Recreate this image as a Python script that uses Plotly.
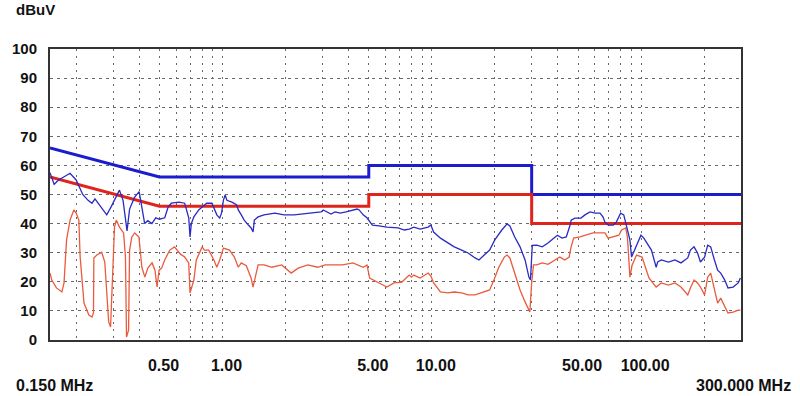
import math
import plotly.graph_objects as go

# ---------------- data ----------------
# limit lines (MHz, dBuV)
qp_limit_f = [0.15, 0.5, 5, 5, 30, 30, 300]
qp_limit_v = [66, 56, 56, 60, 60, 50, 50]
av_limit_f = [0.15, 0.5, 5, 5, 30, 30, 300]
av_limit_v = [56, 46, 46, 50, 50, 40, 40]

# measured trace (blue)
blue_f = [0.150, 0.157, 0.165, 0.175, 0.187, 0.200, 0.215, 0.228, 0.238, 0.246,
          0.265, 0.280, 0.295, 0.310, 0.322, 0.335, 0.350, 0.360, 0.380, 0.400,
          0.410, 0.425, 0.440, 0.460, 0.480, 0.500, 0.530, 0.550, 0.570, 0.620,
          0.660, 0.690, 0.700, 0.710, 0.730, 0.770, 0.800, 0.840, 0.890, 0.910,
          0.940, 0.970, 0.990, 1.010, 1.030, 1.050, 1.110, 1.170, 1.190, 1.230,
          1.270, 1.330, 1.370, 1.400, 1.420, 1.480, 1.580, 1.780, 1.970, 2.200,
          2.560, 2.960, 3.030, 3.300, 3.450, 3.650, 3.900, 4.400, 4.500, 4.700,
          4.900, 5.050, 5.200, 5.600, 6.100, 6.900, 7.400, 7.800, 8.200, 8.800,
          9.600, 9.900, 10.2, 11.0, 11.9, 12.8, 13.9, 14.9, 16.1, 16.8,
          17.8, 18.9, 20.0, 21.6, 22.9, 23.6, 24.9, 26.4, 27.9, 29.1,
          29.6, 30.2, 31.7, 33.7, 35.9, 38.5, 39.8, 41.9, 43.9, 45.8,
          46.3, 48.3, 51.6, 53.9, 57.0, 60.3, 63.6, 65.7, 67.2, 69.6,
          73.6, 76.1, 79.8, 82.6, 84.4, 88.4, 90.0, 94.4, 99.8, 103,
          112, 118, 120, 125, 135, 145, 155, 167, 172, 179,
          186, 192, 201, 208, 215, 224, 232, 240, 251, 260,
          275, 291, 298]
blue_v = [57.5, 53.5, 55.0, 56.0, 57.3, 55.0, 50.0, 48.0, 47.0, 48.5,
          45.5, 43.0, 46.0, 49.0, 51.5, 48.0, 37.5, 45.0, 49.0, 51.0,
          47.0, 40.0, 41.0, 40.0, 42.0, 41.5, 42.0, 45.7, 47.0, 47.4,
          47.0, 42.0, 35.4, 40.0, 42.3, 44.7, 45.7, 47.0, 47.0, 45.4,
          43.0, 41.9, 43.6, 48.0, 49.8, 48.0, 47.4, 46.4, 44.7, 43.0,
          41.2, 39.5, 38.5, 37.1, 41.2, 42.3, 43.0, 43.6, 43.0, 43.0,
          43.6, 44.0, 44.7, 43.3, 44.0, 43.6, 44.0, 45.0, 44.7, 43.0,
          42.0, 40.5, 39.5, 39.2, 38.8, 38.5, 37.8, 38.1, 38.8, 38.1,
          38.8, 39.5, 37.1, 35.0, 33.3, 32.0, 30.9, 29.9, 28.2, 27.5,
          29.2, 30.9, 34.4, 37.8, 39.9, 39.2, 35.4, 32.0, 27.5, 21.6,
          20.6, 32.5, 32.6, 32.0, 33.3, 35.0, 36.0, 35.0, 35.4, 39.5,
          41.2, 41.9, 41.9, 43.0, 44.0, 43.6, 43.6, 42.3, 40.5, 39.5,
          39.5, 40.5, 43.6, 43.0, 40.5, 34.4, 28.5, 32.0, 36.0, 35.0,
          30.9, 25.0, 26.8, 27.5, 26.8, 27.5, 26.5, 28.2, 30.9, 32.0,
          29.9, 26.8, 28.5, 32.6, 32.0, 27.5, 24.0, 23.0, 20.6, 17.9,
          18.2, 19.6, 21.3]

# measured trace (red)
red_f = [0.150, 0.153, 0.161, 0.171, 0.175, 0.180, 0.187, 0.195, 0.200, 0.206,
         0.209, 0.218, 0.230, 0.238, 0.242, 0.243, 0.251, 0.259, 0.265, 0.274,
         0.283, 0.286, 0.292, 0.301, 0.305, 0.311, 0.322, 0.337, 0.344, 0.348,
         0.356, 0.360, 0.369, 0.381, 0.399, 0.412, 0.426, 0.440, 0.461, 0.476,
         0.487, 0.498, 0.512, 0.530, 0.560, 0.590, 0.630, 0.660, 0.690, 0.700,
         0.730, 0.750, 0.800, 0.820, 0.860, 0.910, 0.940, 0.970, 1.010, 1.080,
         1.140, 1.190, 1.230, 1.300, 1.370, 1.400, 1.480, 1.580, 1.720, 1.920,
         2.130, 2.300, 2.560, 2.850, 3.100, 3.350, 3.750, 4.200, 4.700, 4.900,
         5.050, 5.600, 6.100, 6.600, 7.200, 7.800, 8.000, 8.200, 8.800, 9.600,
         9.900, 10.2, 11.0, 11.9, 12.8, 13.9, 14.9, 16.1, 17.4, 18.9,
         19.8, 20.9, 22.2, 22.9, 23.6, 24.9, 26.4, 27.9, 29.4, 30.0,
         30.6, 31.7, 33.7, 35.9, 38.5, 40.9, 43.2, 45.3, 46.3, 47.6,
         51.0, 54.5, 58.9, 63.6, 67.2, 69.6, 73.6, 78.3, 80.7, 84.4,
         86.0, 88.4, 90.6, 95.1, 101, 106, 109, 118, 125, 135,
         145, 155, 167, 172, 179, 186, 192, 201, 208, 215,
         224, 232, 240, 251, 260, 275, 291, 298]
red_v = [23.0, 20.6, 17.9, 16.5, 19.6, 34.4, 41.2, 44.7, 43.6, 41.2,
         28.5, 12.7, 8.6, 7.9, 9.3, 28.2, 29.2, 29.9, 30.2, 26.8,
         13.7, 6.2, 4.5, 28.5, 38.8, 41.2, 38.8, 36.8, 28.5, 1.0,
         3.4, 30.9, 35.4, 36.8, 35.4, 25.0, 21.6, 24.7, 26.5, 24.0,
         18.2, 24.0, 24.7, 27.5, 30.9, 32.0, 29.5, 28.5, 26.5, 16.2,
         20.6, 27.5, 32.0, 30.9, 30.9, 27.5, 25.0, 27.5, 31.6, 30.9,
         28.5, 25.0, 26.5, 25.5, 21.3, 18.2, 25.8, 25.8, 25.0, 25.8,
         23.0, 24.7, 25.8, 25.0, 25.8, 25.8, 25.8, 26.5, 25.0, 25.8,
         21.3, 19.6, 18.2, 19.6, 19.9, 22.3, 21.6, 22.3, 21.3, 23.0,
         22.0, 19.6, 16.5, 16.2, 16.5, 16.2, 15.5, 15.5, 16.2, 17.2,
         20.6, 25.0, 28.5, 29.2, 28.2, 23.0, 17.2, 13.1, 9.6, 19.6,
         25.8, 25.8, 26.5, 26.0, 27.5, 28.5, 27.5, 28.5, 32.0, 35.0,
         35.4, 36.0, 36.8, 36.8, 36.8, 35.0, 35.4, 36.0, 37.8, 38.5,
         35.4, 21.6, 25.8, 29.2, 28.5, 24.0, 21.3, 18.2, 19.6, 18.9,
         19.6, 18.2, 15.5, 17.9, 20.6, 19.6, 18.2, 15.5, 21.6, 23.0,
         17.2, 12.7, 14.4, 11.3, 9.3, 9.6, 10.3, 10.3]

# axis ticks / grid
x_min, x_max = 0.15, 300
grid_f = [0.2, 0.3, 0.4, 0.5, 0.6, 0.7, 0.8, 0.9,
          1, 2, 3, 4, 5, 6, 7, 8, 9,
          10, 20, 30, 40, 50, 60, 70, 80, 90,
          100, 200]
x_label_vals = [0.5, 1, 5, 10, 50, 100]
x_label_text = ["0.50", "1.00", "5.00", "10.00", "50.00", "100.00"]
y_tick_vals = [0, 10, 20, 30, 40, 50, 60, 70, 80, 90, 100]

FONT = "Liberation Sans, Arial, sans-serif"

fig = go.Figure()
fig.add_trace(go.Scatter(x=qp_limit_f, y=qp_limit_v, mode="lines",
                         line=dict(color="#1c1ccf", width=3), hoverinfo="skip"))
fig.add_trace(go.Scatter(x=av_limit_f, y=av_limit_v, mode="lines",
                         line=dict(color="#e0231b", width=3), hoverinfo="skip"))
fig.add_trace(go.Scatter(x=red_f, y=red_v, mode="lines",
                         line=dict(color="#ea5a3c", width=1.3)))
fig.add_trace(go.Scatter(x=blue_f, y=blue_v, mode="lines",
                         line=dict(color="#2a2ac4", width=1.3)))

tick_text = [x_label_text[x_label_vals.index(v)] if v in x_label_vals else ""
             for v in grid_f]

fig.update_xaxes(type="log", range=[math.log10(x_min), math.log10(x_max)], autorange=False,
                 tickvals=grid_f, ticktext=tick_text,
                 showgrid=True, gridcolor="#6a6a6a", gridwidth=1, griddash="2px,5px",
                 showline=True, linecolor="#333333", linewidth=2, mirror=True,
                 ticks="", ticklabelstandoff=10, ticklabelshift=4,
                 tickfont=dict(family=FONT, size=16, color="#111111", weight="bold"),
                 zeroline=False)
fig.update_yaxes(range=[0, 100], tickvals=y_tick_vals,
                 showgrid=True, gridcolor="#6a6a6a", gridwidth=1, griddash="3px,4px",
                 showline=True, linecolor="#333333", linewidth=2, mirror=True,
                 ticks="", ticklabelstandoff=8,
                 tickfont=dict(family=FONT, size=15, color="#111111", weight="bold"),
                 zeroline=False)

fig.add_annotation(text="dBuV", xref="paper", yref="paper",
                   x=-0.052, y=1.172, xanchor="left", yanchor="top", showarrow=False,
                   font=dict(family=FONT, size=15, color="#111111", weight="bold"))
fig.add_annotation(text="0.150 MHz", xref="paper", yref="paper",
                   x=-0.052, y=-0.158, xanchor="left", yanchor="middle", showarrow=False,
                   font=dict(family=FONT, size=16, color="#111111", weight="bold"))
fig.add_annotation(text="300.000 MHz", xref="paper", yref="paper",
                   x=1.075, y=-0.158, xanchor="right", yanchor="middle", showarrow=False,
                   font=dict(family=FONT, size=16, color="#111111", weight="bold"))

fig.update_layout(width=800, height=396, showlegend=False,
                  margin=dict(l=48, r=59, t=49, b=56),
                  paper_bgcolor="white", plot_bgcolor="white")

fig.write_html("out.html", config={"displayModeBar": False},
               post_script="document.body.style.margin='0px';document.body.style.overflow='hidden';")
